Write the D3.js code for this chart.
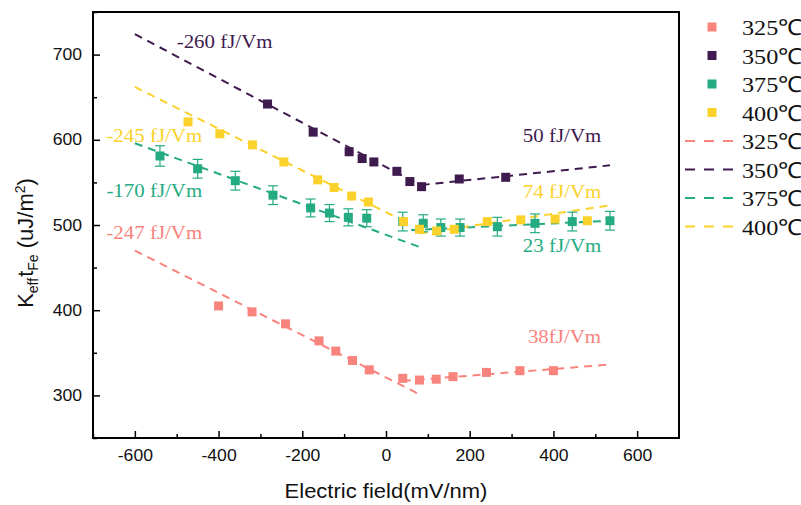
<!DOCTYPE html>
<html>
<head>
<meta charset="utf-8">
<script src="https://cdn.jsdelivr.net/npm/d3@7"></script>
<style>
  body { margin: 0; background: #fff; }
  text { font-family: "Liberation Sans", Arial, sans-serif; }
  .serif { font-family: "Liberation Serif", "Times New Roman", serif; }
</style>
</head>
<body>
<script>
// series values
const temps = ["325℃", "350℃", "375℃", "400℃"];
const colors = ["#f9837d", "#3f1a4f", "#25ab82", "#fbd22b"];

const field325 = [-400, -320, -240, -160, -120, -80, -40, 40, 80, 120, 160, 240, 320, 400];
const k325 = [405, 398, 384, 364, 352, 341, 330, 320, 318, 319, 322, 327, 329, 329];

const field350 = [-283, -174, -88, -57, -29, 26, 57, 85, 175, 286];
const k350 = [642, 609, 586, 578, 574, 563, 551, 545, 554, 556];

const field375 = [-540, -450, -360, -270, -180, -135, -90, -46, 40, 89, 131, 177, 266, 356, 445, 535];
const k375 = [581, 566, 552, 535, 520, 514, 509, 508, 504, 502, 497, 497, 498, 502, 504, 505];
const err375 = [12, 11, 11, 11, 10.5, 10, 10, 10, 11, 10, 10, 10, 11, 11, 11, 11];

const field400 = [-473, -397, -319, -244, -163, -124, -82, -42, 42, 80, 121, 163, 242, 322, 404, 481];
const k400 = [621, 607, 594, 574, 553, 544, 534, 527, 504, 495, 493, 495, 504, 506, 507, 505];

// linear fits, two segments per temperature: [x1, y1, x2, y2]
const fit325 = [[-600, 470, 85, 300], [40, 317, 530, 336]];
const fit350 = [[-600, 724, 85, 546], [85, 547, 535, 570]];
const fit375 = [[-600, 596, 81, 474], [60, 494, 535, 505]];
const fit400 = [[-600, 662, 45, 504], [80, 490, 535, 523]];

const slopeLabels = ["-247 fJ/Vm", "38fJ/Vm", "-260 fJ/Vm", "50 fJ/Vm", "-170 fJ/Vm", "23 fJ/Vm", "-245 fJ/Vm", "74 fJ/Vm"];
const slopeLabelX = [-668, 339, -500, 327, -668, 327, -668, 327];
const slopeLabelY = [483, 362, 708, 598, 533, 468, 598, 532];
const slopeLabelSeries = [0, 0, 1, 1, 2, 2, 3, 3];

const xMajor = [-600, -400, -200, 0, 200, 400, 600];
const xMinor = [-700, -500, -300, -100, 100, 300, 500];
const yMajor = [300, 400, 500, 600, 700];
const yMinor = [250, 350, 450, 550, 650, 750];

const series = [
  {field: field325, k: k325, fit: fit325},
  {field: field350, k: k350, fit: fit350},
  {field: field375, k: k375, fit: fit375, err: err375},
  {field: field400, k: k400, fit: fit400}
];

const width = 801, height = 505;
const margin = {left: 93, right: 122, top: 12, bottom: 67};
const sx = 1.1; // the picture is a little stretched sideways

const svg = d3.select("body").append("svg")
  .attr("width", width)
  .attr("height", height);

const x = d3.scaleLinear().domain([-700, 700]).range([margin.left, width - margin.right]);
const y = d3.scaleLinear().domain([250, 750]).range([height - margin.bottom, margin.top]);

const plain = d => String(d); // hyphen minus, like the original

// axes, ticks pointing inward
svg.append("g").attr("transform", `translate(0,${y(250)})`)
  .call(d3.axisBottom(x).tickValues(xMajor).tickFormat(plain).tickSize(-7).tickPadding(12).tickSizeOuter(0));
svg.append("g").attr("transform", `translate(0,${y(250)})`)
  .call(d3.axisBottom(x).tickValues(xMinor).tickSize(-4).tickFormat("").tickSizeOuter(0));
svg.append("g").attr("transform", `translate(${x(-700)},0)`)
  .call(d3.axisLeft(y).tickValues(yMajor).tickFormat(plain).tickSize(-7).tickPadding(10).tickSizeOuter(0));
svg.append("g").attr("transform", `translate(${x(-700)},0)`)
  .call(d3.axisLeft(y).tickValues(yMinor).tickSize(-4).tickFormat("").tickSizeOuter(0));

svg.selectAll(".domain").remove();
svg.selectAll(".tick line").attr("stroke", "#000").attr("stroke-width", 1.5);
svg.selectAll(".tick text")
  .attr("font-size", 16)
  .attr("font-family", "Liberation Sans, Arial, sans-serif")
  .attr("fill", "#111")
  .attr("transform", `scale(${sx},1)`);

svg.append("rect")
  .attr("x", x(-700)).attr("y", y(750))
  .attr("width", x(700) - x(-700)).attr("height", y(250) - y(750))
  .attr("fill", "none").attr("stroke", "#000").attr("stroke-width", 2);

// axis titles
svg.append("text")
  .attr("transform", `translate(${x(0)},498) scale(${sx},1)`)
  .attr("text-anchor", "middle")
  .attr("font-size", 20)
  .attr("fill", "#111")
  .text("Electric field(mV/nm)");

const yt = svg.append("text")
  .attr("transform", "translate(33,243) rotate(-90)")
  .attr("text-anchor", "middle")
  .attr("font-size", 22)
  .attr("fill", "#111");
yt.append("tspan").text("K");
yt.append("tspan").attr("font-size", 14).attr("dy", 5).text("eff");
yt.append("tspan").attr("dy", -5).attr("dx", 1).text("t");
yt.append("tspan").attr("font-size", 14).attr("dy", 5).text("Fe");
yt.append("tspan").attr("dy", -5).text(" (uJ/m");
yt.append("tspan").attr("font-size", 14).attr("dy", -8).text("2");
yt.append("tspan").attr("dy", 8).text(")");

// fit lines
series.forEach((s, i) => {
  svg.selectAll(null)
    .data(s.fit)
    .join("line")
    .attr("x1", d => x(d[0])).attr("y1", d => y(d[1]))
    .attr("x2", d => x(d[2])).attr("y2", d => y(d[3]))
    .attr("stroke", colors[i])
    .attr("stroke-width", 2)
    .attr("stroke-dasharray", "8,6");
});

// error bars for 375
const s375 = series[2];
const eb = svg.append("g").attr("stroke", colors[2]).attr("stroke-width", 1.2);
s375.field.forEach((f, j) => {
  const cx = x(f), y0 = y(s375.k[j] - s375.err[j]), y1 = y(s375.k[j] + s375.err[j]);
  eb.append("line").attr("x1", cx).attr("x2", cx).attr("y1", y0).attr("y2", y1);
  eb.append("line").attr("x1", cx - 5).attr("x2", cx + 5).attr("y1", y0).attr("y2", y0);
  eb.append("line").attr("x1", cx - 5).attr("x2", cx + 5).attr("y1", y1).attr("y2", y1);
});

// square markers (drawn 325, 350, 375, 400 so 400 sits on top)
const msize = 9;
series.forEach((s, i) => {
  svg.selectAll(null)
    .data(s.field.map((f, j) => [f, s.k[j]]))
    .join("rect")
    .attr("x", d => x(d[0]) - msize / 2)
    .attr("y", d => y(d[1]) - msize / 2)
    .attr("width", msize).attr("height", msize)
    .attr("fill", colors[i]);
});

// slope annotations
slopeLabels.forEach((t, i) => {
  svg.append("text")
    .attr("class", "serif")
    .attr("transform", `translate(${x(slopeLabelX[i])},${y(slopeLabelY[i])}) scale(${sx},1)`)
    .attr("font-size", 19)
    .attr("fill", colors[slopeLabelSeries[i]])
    .text(t);
});

// legend
const legend = svg.append("g");
const rowH = 28.5, row0 = 27;
temps.forEach((t, i) => {
  const cy = row0 + i * rowH;
  legend.append("rect")
    .attr("x", 712 - 4.5).attr("y", cy - 4.5)
    .attr("width", 9).attr("height", 9)
    .attr("fill", colors[i]);
  legend.append("text")
    .attr("class", "serif")
    .attr("transform", `translate(742,${cy + 8}) scale(${sx},1)`)
    .attr("font-size", 22).attr("fill", "#111")
    .text(t);
});
temps.forEach((t, i) => {
  const cy = row0 + (i + 4) * rowH;
  legend.append("line")
    .attr("x1", 685).attr("x2", 733)
    .attr("y1", cy).attr("y2", cy)
    .attr("stroke", colors[i]).attr("stroke-width", 2)
    .attr("stroke-dasharray", "10,9");
  legend.append("text")
    .attr("class", "serif")
    .attr("transform", `translate(742,${cy + 8}) scale(${sx},1)`)
    .attr("font-size", 22).attr("fill", "#111")
    .text(t);
});
</script>
</body>
</html>
